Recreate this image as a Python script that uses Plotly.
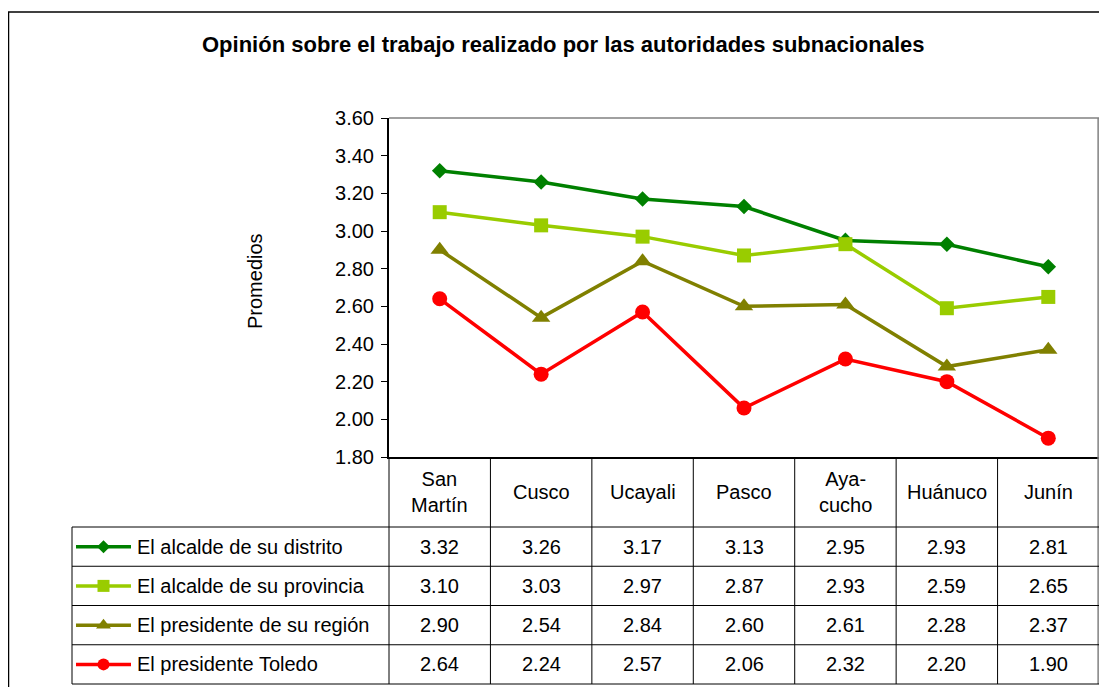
import plotly.graph_objects as go

# Page has an 8px body margin: figure sized so the page is exactly 1107x695
OFF = 8
W, H = 1107 - 2 * OFF, 695 - 2 * OFF

categories = ["San Martín", "Cusco", "Ucayali", "Pasco", "Ayacucho", "Huánuco", "Junín"]
category_labels = ["San<br>Martín", "Cusco", "Ucayali", "Pasco", "Aya-<br>cucho", "Huánuco", "Junín"]

series_names = ["El alcalde de su distrito", "El alcalde de su provincia",
                "El presidente de su región", "El presidente Toledo"]
alcalde_distrito = [3.32, 3.26, 3.17, 3.13, 2.95, 2.93, 2.81]
alcalde_provincia = [3.10, 3.03, 2.97, 2.87, 2.93, 2.59, 2.65]
presidente_region = [2.90, 2.54, 2.84, 2.60, 2.61, 2.28, 2.37]
presidente_toledo = [2.64, 2.24, 2.57, 2.06, 2.32, 2.20, 1.90]
series_values = [alcalde_distrito, alcalde_provincia, presidente_region, presidente_toledo]

y_ticks = [1.8, 2.0, 2.2, 2.4, 2.6, 2.8, 3.0, 3.2, 3.4, 3.6]

colors = ["#008000", "#99CC00", "#808000", "#FF0000"]
symbols = ["diamond", "square", "triangle-up", "circle"]
msizes = [12, 14, 16, 15]
leg_msizes = [10, 12, 13, 12]

FONT = "Liberation Sans, Arial, sans-serif"
FS = 20

def px(x):
    return min(max((x - OFF) / W, 0.0), 1.0)

def py(y):
    return 1 - (y - OFF) / H

# layout geometry (page pixels)
PL, PR, PT, PB = 389, 1099, 118, 457
TL = 72
ROW_TOP = 527
TB = 684
ROW_H = (TB - ROW_TOP) / 4

fig = go.Figure()

for name, vals, c, s, m in zip(series_names, series_values, colors, symbols, msizes):
    fig.add_trace(go.Scatter(
        x=categories, y=vals, name=name, mode="lines+markers",
        line=dict(color=c, width=3.5),
        marker=dict(symbol=s, size=m, color=c, line=dict(width=0)),
        xaxis="x", yaxis="y", showlegend=False, cliponaxis=False,
    ))

# legend keys in table (secondary axes, pixel units from table left edge)
for i, (name, c, s, m) in enumerate(zip(series_names, colors, symbols, leg_msizes)):
    fig.add_trace(go.Scatter(
        x=[4, 59], y=[i, i], mode="lines", line=dict(color=c, width=3.5),
        xaxis="x2", yaxis="y2", showlegend=False, hoverinfo="skip",
    ))
    fig.add_trace(go.Scatter(
        x=[31.5], y=[i], mode="markers",
        marker=dict(symbol=s, size=m, color=c, line=dict(width=0)),
        xaxis="x2", yaxis="y2", showlegend=False, hoverinfo="skip",
    ))

shapes = []
# outer frame (left and top edges visible)
shapes.append(dict(type="line", xref="paper", yref="paper", x0=px(8.5), x1=px(8.5),
                   y0=0, y1=py(12), line=dict(color="#000000", width=1.5)))
shapes.append(dict(type="line", xref="paper", yref="paper", x0=px(8), x1=1,
                   y0=py(12), y1=py(12), line=dict(color="#000000", width=1.5)))
# plot area gray border (top & right)
shapes.append(dict(type="line", xref="paper", yref="paper", x0=px(PL), x1=px(PR),
                   y0=py(PT), y1=py(PT), line=dict(color="#808080", width=1.5)))
shapes.append(dict(type="line", xref="paper", yref="paper", x0=px(PR) - 0.0008, x1=px(PR) - 0.0008,
                   y0=py(PT), y1=py(TB), line=dict(color="#808080", width=1.5)))
# table horizontal lines
for k in range(5):
    yy = ROW_TOP + k * ROW_H
    shapes.append(dict(type="line", xref="paper", yref="paper", x0=px(TL), x1=px(PR),
                       y0=py(yy), y1=py(yy), line=dict(color="#000000", width=1)))
# table vertical lines
shapes.append(dict(type="line", xref="paper", yref="paper", x0=px(TL), x1=px(TL),
                   y0=py(ROW_TOP), y1=py(TB), line=dict(color="#000000", width=1)))
shapes.append(dict(type="line", xref="paper", yref="paper", x0=px(PL), x1=px(PL),
                   y0=py(PB), y1=py(TB), line=dict(color="#000000", width=1)))
for i in range(len(categories) - 1):
    shapes.append(dict(type="line", xref="x", yref="paper", x0=i + 0.5, x1=i + 0.5,
                       y0=py(PB), y1=py(TB), line=dict(color="#000000", width=1)))

annotations = []
annotations.append(dict(text="<b>Opinión sobre el trabajo realizado por las autoridades subnacionales</b>",
                        xref="paper", yref="paper", x=px(563), y=py(44), showarrow=False,
                        xanchor="center", yanchor="middle",
                        font=dict(family=FONT, size=22, color="#000000")))
annotations.append(dict(text="Promedios", xref="paper", yref="paper", x=px(255), y=py(281),
                        textangle=-90, showarrow=False, xanchor="center", yanchor="middle",
                        font=dict(family=FONT, size=FS, color="#000000")))
for i, lab in enumerate(category_labels):
    annotations.append(dict(text=lab, xref="x", yref="paper", x=i, y=py((PB + ROW_TOP) / 2),
                            showarrow=False, xanchor="center", yanchor="middle",
                            font=dict(family=FONT, size=FS, color="#000000")))
for r, (name, vals) in enumerate(zip(series_names, series_values)):
    yc = py(ROW_TOP + (r + 0.5) * ROW_H)
    annotations.append(dict(text=name, xref="paper", yref="paper", x=px(135), y=yc,
                            showarrow=False, xanchor="left", yanchor="middle",
                            font=dict(family=FONT, size=FS, color="#000000")))
    for i, v in enumerate(vals):
        annotations.append(dict(text=f"{v:.2f}", xref="x", yref="paper", x=i, y=yc,
                                showarrow=False, xanchor="center", yanchor="middle",
                                font=dict(family=FONT, size=FS, color="#000000")))

fig.update_layout(
    width=W, height=H,
    margin=dict(l=0, r=0, t=0, b=0, pad=0, autoexpand=False),
    paper_bgcolor="white", plot_bgcolor="white",
    font=dict(family=FONT, size=FS, color="#000000"),
    xaxis=dict(domain=[px(PL), px(PR)], type="category", categoryorder="array",
               categoryarray=categories, range=[-0.5, 6.5], showticklabels=False,
               ticks="", showgrid=False, zeroline=False, showline=True,
               linecolor="#000000", linewidth=2, anchor="y", fixedrange=True),
    yaxis=dict(domain=[py(PB), py(PT)], range=[1.8, 3.6], tickvals=y_ticks,
               tickformat=".2f", ticks="outside", ticklen=6, tickcolor="#000000",
               tickwidth=1, showgrid=False, zeroline=False, showline=True,
               linecolor="#000000", linewidth=2, anchor="x", automargin=False,
               ticklabelstandoff=3,
               tickfont=dict(family=FONT, size=FS, color="#000000"), fixedrange=True),
    xaxis2=dict(domain=[px(TL), px(PL)], range=[0, PL - TL], visible=False,
                anchor="y2", fixedrange=True),
    yaxis2=dict(domain=[py(TB), py(ROW_TOP)], range=[3.5, -0.5], visible=False,
                anchor="x2", fixedrange=True),
    shapes=shapes,
    annotations=annotations,
)

fig.write_html("out.html")
